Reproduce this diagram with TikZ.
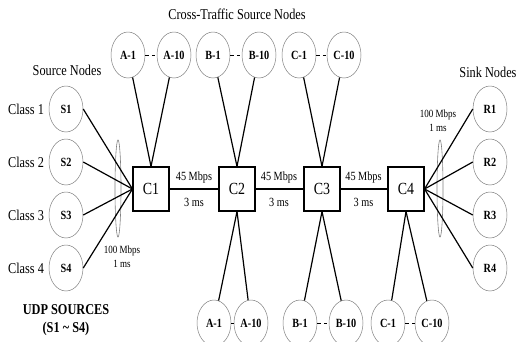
\documentclass[tikz,border=0pt]{standalone}
\usepackage{fontspec}
\setmainfont{Liberation Serif}[FakeStretch=0.82]
\usetikzlibrary{shapes.geometric}
\begin{document}
\begin{tikzpicture}[x=1pt,y=-1pt,
  hostnode/.style={ellipse,draw=gray,line width=0.5pt,minimum width=34pt,minimum height=46pt,inner sep=0pt,font=\fontsize{12.5}{13}\selectfont\bfseries},
  corenode/.style={rectangle,draw=black,line width=1.1pt,minimum width=36pt,minimum height=44pt,inner sep=0pt,font=\fontsize{17}{18}\selectfont},
  lbl/.style={inner sep=0pt,font=\fontsize{15}{16}\selectfont},
  small/.style={inner sep=0pt,font=\fontsize{12.5}{13}\selectfont},
  tiny/.style={inner sep=0pt,align=center,font=\fontsize{11}{14}\selectfont},
  access/.style={line width=1.2pt},
  backbone/.style={line width=2.6pt},
  dots/.style={line width=0.9pt,dash pattern=on 3.5pt off 3pt},
  loop/.style={draw=gray,line width=0.6pt}]
\useasboundingbox (0,0) rectangle (519,341);
\clip (0,0) rectangle (519,341);

% titles
\node[lbl] (title) at (237,14) {Cross-Traffic Source Nodes};
\node[lbl] (srct) at (67,70) {Source Nodes};
\node[lbl] (sinkt) at (488,72) {Sink Nodes};
\node[lbl,font=\fontsize{15}{16}\selectfont\bfseries] (udp1) at (66,310) {UDP SOURCES};
\node[lbl,font=\fontsize{15}{16}\selectfont\bfseries] (udp2) at (66,329) {(S1 \textasciitilde{} S4)};

% core routers
\node[corenode] (C1) at (151,189) {C1};
\node[corenode] (C2) at (237,189) {C2};
\node[corenode] (C3) at (322,189) {C3};
\node[corenode] (C4) at (406,189) {C4};

% loops
\draw[loop] (118,188.5) ellipse [x radius=3, y radius=48.5];
\draw[loop] (440,188.5) ellipse [x radius=3, y radius=48.5];

% sources and sinks
\foreach \i/\y in {1/109,2/162,3/215,4/268}{
  \node[hostnode] (S\i) at (66,\y) {S\i};
  \node[lbl] (K\i) at (26,\y) {Class \i};
  \node[hostnode] (R\i) at (490,\y) {R\i};
  \draw[access] (S\i.east) -- (C1.west);
  \draw[access] (R\i.west) -- (C4.east);
}

% top cross-traffic nodes
\node[hostnode] (tA1) at (128,55) {A-1};
\node[hostnode] (tA10) at (174,55) {A-10};
\node[hostnode] (tB1) at (213,55) {B-1};
\node[hostnode] (tB10) at (259,55) {B-10};
\node[hostnode] (tC1) at (299,55) {C-1};
\node[hostnode] (tC10) at (344,55) {C-10};
% bottom cross-traffic nodes
\node[hostnode] (bA1) at (214,323) {A-1};
\node[hostnode] (bA10) at (251,323) {A-10};
\node[hostnode] (bB1) at (300,323) {B-1};
\node[hostnode] (bB10) at (346,323) {B-10};
\node[hostnode] (bC1) at (388,323) {C-1};
\node[hostnode] (bC10) at (432,323) {C-10};

\foreach \a/\b in {tA1/tA10,tB1/tB10,tC1/tC10,bA1/bA10,bB1/bB10,bC1/bC10}
  \draw[dots] (\a.east) -- (\b.west);

\draw[access] (tA1) -- (C1.north);
\draw[access] (tA10) -- (C1.north);
\draw[access] (tB1) -- (C2.north);
\draw[access] (tB10) -- (C2.north);
\draw[access] (tC1) -- (C3.north);
\draw[access] (tC10) -- (C3.north);
\draw[access] (bA1) -- (C2.south);
\draw[access] (bA10) -- (C2.south);
\draw[access] (bB1) -- (C3.south);
\draw[access] (bB10) -- (C3.south);
\draw[access] (bC1) -- (C4.south);
\draw[access] (bC10) -- (C4.south);

% backbone
\draw[backbone] (C1.east) -- (C2.west);
\draw[backbone] (C2.east) -- (C3.west);
\draw[backbone] (C3.east) -- (C4.west);
\node[small] (bw1) at (194,177) {45 Mbps};
\node[small] (dl1) at (194,202) {3 ms};
\node[small] (bw2) at (279,177) {45 Mbps};
\node[small] (dl2) at (279,202) {3 ms};
\node[small] (bw3) at (363.5,177) {45 Mbps};
\node[small] (dl3) at (363.5,202) {3 ms};

% access link labels
\node[tiny] (acl) at (122,257) {100 Mbps\\1 ms};
\node[tiny] (acr) at (438,121) {100 Mbps\\1 ms};
\end{tikzpicture}
\end{document}
